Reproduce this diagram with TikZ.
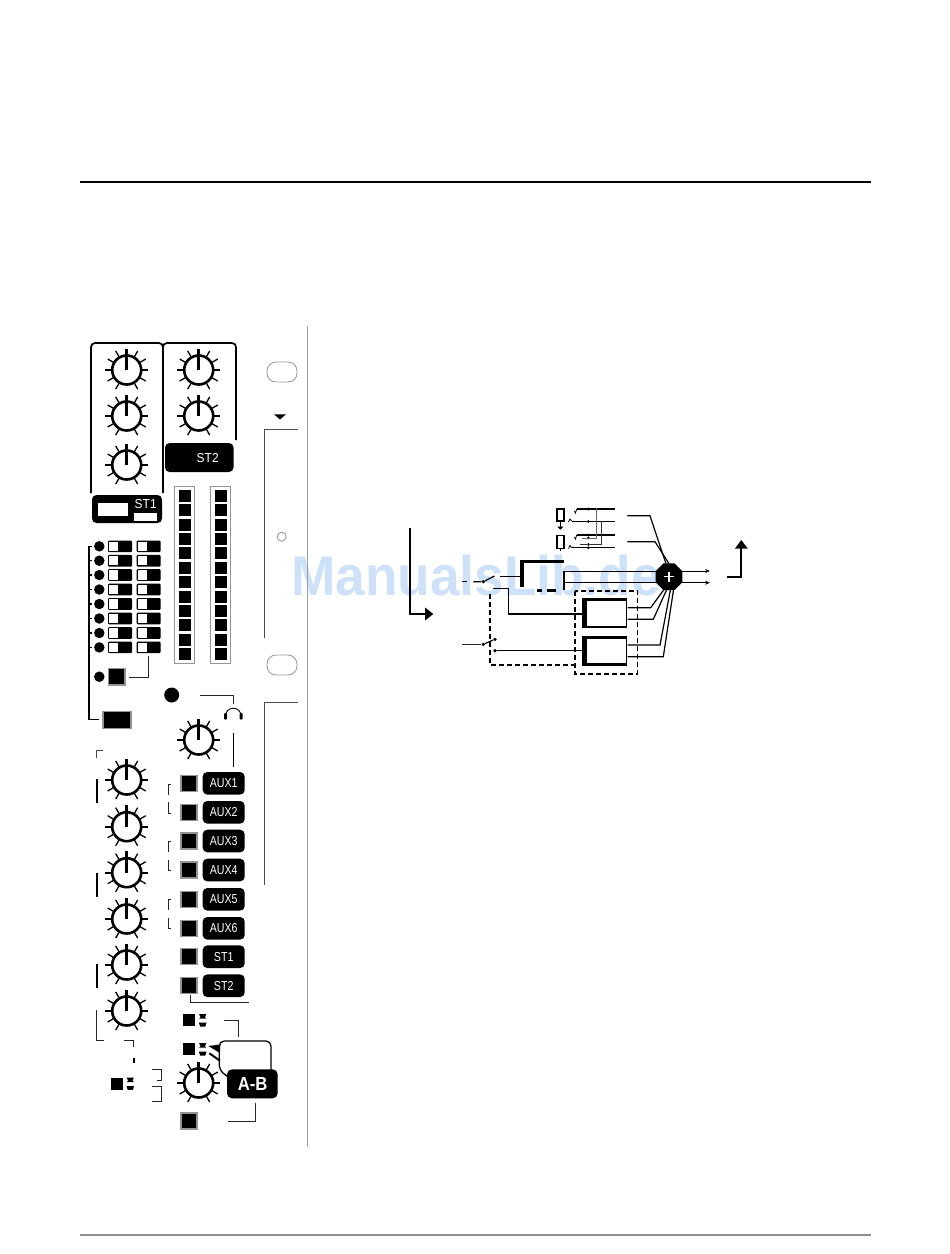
\documentclass[tikz,border=0pt]{standalone}
\usepackage{fontspec}
\usepackage{graphicx}
\setmainfont{Liberation Sans}
\usetikzlibrary{shapes.geometric,arrows.meta,calc}
\definecolor{panelgray}{gray}{0.62}
\definecolor{framegray}{gray}{0.58}
\definecolor{wmblue}{RGB}{205,225,248}
\tikzset{
  knobring/.style={draw=black,line width=2.6pt,fill=white,circle,minimum size=29pt,inner sep=0pt},
  capbox/.style={fill=black,rounded corners=4.5pt},
  caplabel/.style={text=white,font=\fontsize{13}{13}\selectfont,inner sep=0pt},
  sqbtn/.style={draw=framegray,line width=1.5pt,fill=black},
  thinln/.style={line width=1pt,draw=black!85},
  medln/.style={line width=1.5pt,draw=black},
  grayln/.style={line width=1pt,draw=panelgray},
  dashbox/.style={line width=1.5pt,draw=black,dash pattern=on 5pt off 3pt},
  flowln/.style={line width=1.2pt,draw=black},
  dotnode/.style={circle,fill=black,inner sep=0pt,minimum size=3.6pt},
  sigarrow/.style={-{Stealth[length=5pt,width=4pt]},line width=1pt}
}
\newcommand{\knob}[3]{%
  \foreach \a in {30,60,120,150,210,240,300,330}
    \draw[line width=1.3pt] ([shift={(\a:15pt)}]#1,#2) -- ([shift={(\a:22pt)}]#1,#2);
  \draw[line width=2pt] ([shift={(0:15pt)}]#1,#2) -- ([shift={(0:21pt)}]#1,#2);
  \draw[line width=2pt] ([shift={(180:15pt)}]#1,#2) -- ([shift={(180:22pt)}]#1,#2);
  \node[knobring] (#3) at (#1,#2) {};
  \draw[line width=3pt] (#3.center) -- ++(0,21.5pt);
}
\newcommand{\auxrow}[3]{%
  \node[sqbtn,minimum width=16pt,minimum height=16pt,inner sep=0pt] (btn#3) at (189,#1) {};
  \fill[capbox] (202.7,#1-11.3) rectangle (244.7,#1+11.3);
  \node[caplabel] (cap#3) at (223.7,#1) {\scalebox{0.82}[1]{#2}};
}
\newcommand{\swrow}[2]{%
  \node[circle,fill=black,inner sep=0pt,minimum size=10.5pt] (led#2) at (99.3,#1) {};
  \draw[line width=1.5pt] (89,#1) -- (92,#1);
  \fill[black,rounded corners=1pt] (108,#1-5.8) rectangle (132,#1+5.8);
  \fill[white] (109,#1-4.6) rectangle (117.5,#1+4.6);
  \fill[black,rounded corners=1pt] (136.7,#1-5.8) rectangle (160.5,#1+5.8);
  \fill[white] (137.7,#1-4.6) rectangle (146.5,#1+4.6);
}
\newcommand{\tinysw}[3]{%
  \fill[black] (#1,#3-6) rectangle (#1+12,#3+6);
  \fill[black] (#2-3.6,#3-6.2) -- (#2+3.6,#3-6.2) -- (#2+2.2,#3-3) -- (#2+3.6,#3-1.6) -- (#2-3.6,#3-1.6) -- (#2-2.2,#3-3) -- cycle;
  \fill[black] (#2-3.8,#3+2.4) -- (#2+3.8,#3+2.4) -- (#2+2.6,#3+6.2) -- (#2-2.6,#3+6.2) -- cycle;
}
\newcommand{\smallbr}[2]{%
  \draw[thinln] (171,#1) -- (168.7,#1) -- (168.7,#1+10.7);
  \draw[thinln] (171,#2) -- (168.7,#2) -- (168.7,#2-10.7);
}
\begin{document}
\begin{tikzpicture}[x=1pt,y=-1pt]
\useasboundingbox (0,0) rectangle (950,1254);
\fill[white] (0,0) rectangle (950,1254);

% rules
\draw[line width=2.4pt] (80,182) -- (871,182);
\draw[line width=1.5pt,draw=black!45] (80,1235) -- (871,1235);

% watermark
\node[text=wmblue,font=\fontsize{56}{56}\selectfont\bfseries,inner sep=0pt,anchor=west] (wm) at (291,575) {\scalebox{0.95}[1]{ManualsLib.de}};

% panel edge and right-hand shapes
\draw[grayln] (307.7,326) -- (307.7,1147);
\node[draw=panelgray,line width=0.9pt,rounded corners=9pt,minimum width=30pt,minimum height=20pt,inner sep=0pt] (pilla) at (282,372) {};
\node[draw=panelgray,line width=0.9pt,rounded corners=9pt,minimum width=30pt,minimum height=20pt,inner sep=0pt] (pillb) at (282,665) {};
\fill[black] (274,414.3) -- (286,414.3) -- (280,419.5) -- cycle;
\draw[line width=1pt,draw=black!70] (264.3,638) -- (264.3,429.3) -- (297.7,429.3);
\draw[line width=1pt,draw=black!70] (264.3,885) -- (264.3,702.7) -- (297.7,702.7);
\node[circle,draw=panelgray,line width=0.9pt,minimum size=9pt,inner sep=0pt] (hole) at (281.7,536.7) {};

% top brackets
\draw[line width=1.7pt,rounded corners=4pt] (91,493) -- (91,343) -- (163,343) -- (163,493);
\draw[line width=1.7pt,rounded corners=4pt] (163,349) -- (163,343) -- (236,343) -- (236,440);

% knobs
\knob{126.7}{370}{ka}\knob{126.7}{416}{kb}\knob{126.7}{465}{kc}
\knob{198.7}{370}{kd}\knob{198.7}{416}{ke}
\knob{198.7}{740}{kf}
\knob{126.7}{780}{kg}\knob{126.7}{826.7}{kh}\knob{126.7}{872.7}{ki}
\knob{126.7}{919}{kj}\knob{126.7}{965}{kk}\knob{126.7}{1011}{kl}
\knob{198.7}{1083}{km}

% ST2 / ST1 caps
\fill[capbox] (165,443) rectangle (233.5,472);
\node[caplabel] (st2cap) at (207.7,458) {\scalebox{0.92}[1]{ST2}};
\fill[capbox] (92,495) rectangle (162,523);
\fill[white] (98,503) rectangle (128,515.5);
\fill[white] (134,513) rectangle (157,521);
\node[caplabel] (st1cap) at (145.7,504.5) {\scalebox{0.92}[1]{ST1}};

% meters
\draw[line width=0.9pt,draw=framegray] (174.5,486) rectangle (194.5,663);
\draw[line width=0.9pt,draw=framegray] (210.5,486) rectangle (230.5,663);
\foreach \i in {0,...,11}{
  \fill[black] (179,489.7+\i*14.4) rectangle (191,501.7+\i*14.4);
  \fill[black] (215,489.7+\i*14.4) rectangle (227,501.7+\i*14.4);
}

% switch rows
\swrow{546.3}{a}\swrow{560.7}{b}\swrow{575}{c}\swrow{589.5}{d}
\swrow{604}{e}\swrow{618.5}{f}\swrow{633}{g}\swrow{647.4}{h}
\draw[line width=1.6pt] (89,546) -- (89,719.5) -- (99,719.5);
\node[circle,fill=black,inner sep=0pt,minimum size=10.5pt] (ledi) at (99.3,676.7) {};
\node[sqbtn,minimum width=16.5pt,minimum height=16.5pt,inner sep=0pt] (btnm) at (116.7,676.7) {};
\draw[thinln] (129,677) -- (148,677) -- (148,656);
\node[sqbtn,minimum width=28pt,minimum height=17pt,inner sep=0pt] (btnw) at (117,720) {};

% headphones
\node[circle,fill=black,inner sep=0pt,minimum size=15pt] (phled) at (171.7,695) {};
\draw[thinln] (200.3,695.3) -- (233.3,695.3) -- (233.3,704);
\draw[line width=0.9pt] (225.5,716) arc[start angle=180,end angle=0,radius=7.8pt];
\fill[black,rounded corners=1pt] (224,713) rectangle (227,719.5);
\fill[black,rounded corners=1pt] (239.7,713) rectangle (242.7,719.5);
\draw[line width=1.2pt] (233.3,732.7) -- (233.3,767);

% left marks
\draw[line width=1pt,draw=black!70] (96.7,758) -- (96.7,750.7) -- (103,750.7);
\draw[line width=2pt] (97,779) -- (97,803);
\draw[line width=2pt] (97,873) -- (97,897);
\draw[line width=2pt] (97,964) -- (97,988);
\draw[thinln] (96.7,1010) -- (96.7,1040) -- (104,1040);
\draw[thinln] (124,1040) -- (133.3,1040) -- (133.3,1047);
\draw[line width=2pt] (133.7,1057.7) -- (133.7,1063.3);

% AUX rows
\auxrow{783.3}{AUX1}{a}\auxrow{812.3}{AUX2}{b}\auxrow{841}{AUX3}{c}\auxrow{870}{AUX4}{d}
\auxrow{899.3}{AUX5}{e}\auxrow{928.3}{AUX6}{f}\auxrow{956.7}{ST1}{g}\auxrow{985.7}{ST2}{h}
\smallbr{784.3}{813}\smallbr{841.7}{870.7}\smallbr{899.3}{928.3}
\draw[thinln] (190.3,995) -- (190.3,1002.3) -- (249,1002.3);

% small switches
\tinysw{182.7}{202.7}{1020.3}
\tinysw{182.7}{202.7}{1049.3}
\tinysw{110.7}{130.3}{1083.7}
\draw[thinln] (223.7,1020.7) -- (238.7,1020.7) -- (238.7,1036.7);
\draw[line width=1.3pt,rounded corners=5pt] (228,1077) -- (219.3,1070) -- (219.3,1041) -- (271,1041) -- (271,1072);
\fill[black] (208.3,1046) -- (220,1044.5) -- (220,1053) -- cycle;
\draw[line width=2pt] (209.3,1053.3) -- (220,1060.7);
\draw[thinln] (152.3,1069) -- (161.7,1069) -- (161.7,1080) -- (157.3,1080);
\draw[thinln] (152.3,1086.7) -- (161.7,1086.7) -- (161.7,1101.3) -- (152.3,1101.3);

% A-B
\fill[capbox,rounded corners=5pt] (227,1069.3) rectangle (277.7,1098.3);
\node[text=white,font=\fontsize{19}{19}\selectfont\bfseries,inner sep=0pt] (abcap) at (252.7,1084.3) {\scalebox{0.88}[1]{A-B}};
\node[sqbtn,minimum width=16pt,minimum height=16pt,inner sep=0pt] (btnab) at (189,1121) {};
\draw[thinln] (255.7,1103.3) -- (255.7,1121) -- (228.3,1121);

% ---- block diagram ----
\coordinate (bigarrowtip) at (433.3,614);
\draw[line width=1.7pt] (410.3,528.3) -- (410.3,614) -- (426,614);
\fill[black] (425,607.5) -- (bigarrowtip) -- (425,620.5) -- cycle;

% blocks
\node[fill=black,minimum width=45pt,minimum height=30pt,inner sep=0pt] (blka) at (604.8,613.3) {};
\fill[white] (587.3,601.2) rectangle (626,625.8);
\node[fill=black,minimum width=45pt,minimum height=30.3pt,inner sep=0pt] (blkb) at (604.8,650.8) {};
\fill[white] (587.3,638.7) rectangle (626,663);

% dashed boxes
\draw[dashbox] (490,594) -- (490,665) -- (575,665);
\draw[dashbox] (575,591) rectangle (637.3,674);

% broken upper block
\fill[black] (520,561.7) rectangle (524,586.7);
\draw[line width=2.6pt] (520,561.7) -- (563.5,561.7);
\draw[line width=2.6pt] (536.7,590.7) -- (541.7,590.7);
\draw[line width=2.6pt] (546.7,590.7) -- (556,590.7);
\draw[line width=1.5pt] (563.8,571) -- (563.8,590);

% input switches
\node[dotnode] (swa) at (483.3,581.7) {};
\draw[line width=1.2pt] (462.3,581.7) -- (466.7,581.7);
\draw[line width=1.2pt] (473.3,581.7) -- (swa) -- (494.5,576);
\draw[line width=1.5pt] (500,576.7) -- (520,576.7);
\draw[line width=1.5pt] (493.3,588.3) -- (508.3,588.3) -- (508.3,614) -- (blka.west |- 0,614);
\node[dotnode] (swb) at (483.3,644.3) {};
\node[dotnode] (swc) at (495,639.3) {};
\node[dotnode] (swd) at (495,650.7) {};
\draw[thinln] (462.3,644.3) -- (swb);
\draw[line width=1.2pt] (swb) -- (swc);
\draw[line width=1.5pt] (swd) -- (blkb.west |- swd);

% outputs
\coordinate (outa) at (710,571);
\coordinate (outb) at (710,582.7);
\coordinate (sumc) at (669,576.7);
\draw[sigarrow] (563.5,571) -- (outa);
\draw[sigarrow] (563.5,582.7) -- (outb);
\draw[flowln] (blka.east |- 0,607.7) -- (650.7,607.7) -- ($(sumc)+(-3,10)$);
\draw[flowln] (blka.east |- 0,619.3) -- (653.3,619.3) -- ($(sumc)+(-1,10)$);
\draw[flowln] (blkb.east |- 0,645) -- (660,645) -- ($(sumc)+(2,10)$);
\draw[flowln] (blkb.east |- 0,656.7) -- (663.3,656.7) -- ($(sumc)+(5,10)$);

% up arrow
\draw[line width=1.7pt] (727.3,576.7) -- (741.3,576.7) -- (741.3,548);
\fill[black] (735,548.5) -- (741.3,540) -- (747.7,548.5) -- cycle;

% top jacks
\node[draw=black,line width=1.4pt,minimum width=7pt,minimum height=12pt,inner sep=0pt] (jacka) at (560.3,515) {};
\node[draw=black,line width=1.4pt,minimum width=7pt,minimum height=13pt,inner sep=0pt] (jackb) at (560.3,541.7) {};
\draw[line width=1pt] (jacka.south) -- (560.3,527);
\fill[black] (557,526.5) -- (563.7,526.5) -- (560.3,529.7) -- cycle;
\draw[line width=1pt] (jackb.south) -- (560.3,550.5);

\draw[line width=1.5pt] (576.7,509) -- (615,509);
\draw[line width=1pt] (571.7,521) -- (615,521);
\draw[line width=1.5pt] (576.7,535) -- (615,535);
\draw[line width=1.5pt] (571.7,547.7) -- (615,547.7);
\foreach \yy/\nm in {509/p,521.5/q,535/r,538/s,544.5/t,547.7/u}
  \node[dotnode,minimum size=3pt] (dot\nm) at (588.3,\yy) {};
\draw[line width=0.8pt] (574.3,511) -- (575.5,513) -- (576.7,509);
\draw[line width=0.8pt] (568.5,522) -- (570,519) -- (571.7,521);
\draw[line width=0.8pt] (574.3,537) -- (575.5,539) -- (576.7,535);
\draw[line width=0.8pt] (568.5,548.5) -- (570,545.5) -- (571.7,547.7);
\draw[line width=1pt,draw=black!60] (596.7,508) -- (596.7,538.3) -- (582,538.3);
\draw[line width=1pt,draw=black!80] (601.7,521) -- (601.7,544.3) -- (580,544.3);

\draw[flowln] (627.3,515.7) -- (650,515.7) -- ($(sumc)+(-3,-13)$);
\draw[flowln] (627.3,541.7) -- (655,541.7) -- ($(sumc)+(0,-13)$);

% sum on top of the lines
\node[regular polygon,regular polygon sides=8,fill=black,minimum size=29pt,inner sep=0pt] (sum) at (sumc) {};
\draw[white,line width=1.4pt] (664,576.7) -- (674,576.7) (669,571.7) -- (669,581.7);
\end{tikzpicture}
\end{document}
